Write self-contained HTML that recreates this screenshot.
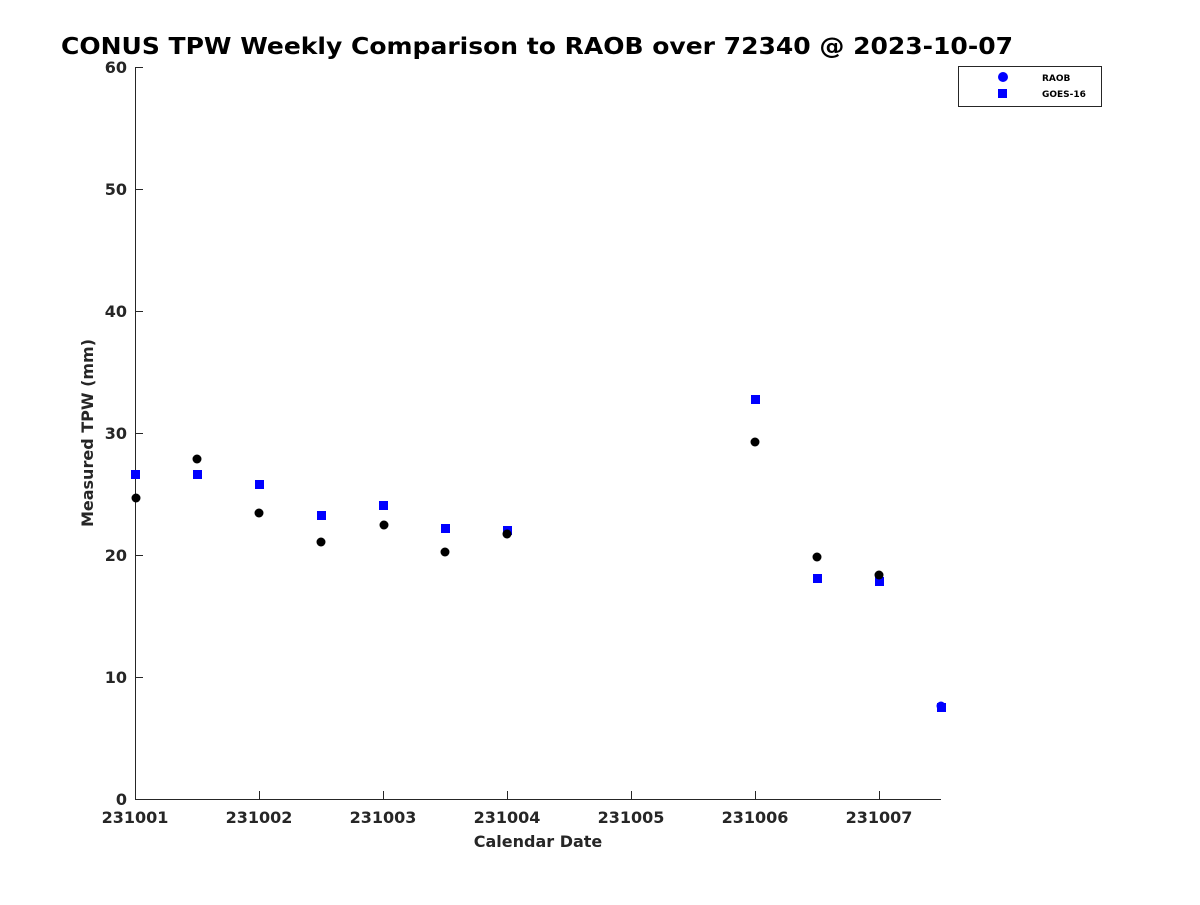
<!DOCTYPE html>
<html><head><style>body{margin:0;background:#fff}svg text{font-family:"DejaVu Sans",sans-serif;font-weight:bold;fill:#262626}</style></head><body>
<svg width="1200" height="900" xmlns="http://www.w3.org/2000/svg">
<rect width="1200" height="900" fill="#fff"/>
<text x="61" y="54" font-size="23.5" textLength="952" lengthAdjust="spacingAndGlyphs" style="fill:#000">CONUS TPW Weekly Comparison to RAOB over 72340 @ 2023-10-07</text>
<g stroke="#262626" stroke-width="1" fill="none">
<line x1="135.5" y1="67" x2="135.5" y2="799.5"/>
<line x1="135" y1="799.5" x2="941" y2="799.5"/>
<line x1="135" y1="67.5" x2="143" y2="67.5"/><line x1="135" y1="189.5" x2="143" y2="189.5"/><line x1="135" y1="311.5" x2="143" y2="311.5"/><line x1="135" y1="433.5" x2="143" y2="433.5"/><line x1="135" y1="555.5" x2="143" y2="555.5"/><line x1="135" y1="677.5" x2="143" y2="677.5"/>
<line x1="259.5" y1="799" x2="259.5" y2="791"/><line x1="383.5" y1="799" x2="383.5" y2="791"/><line x1="507.5" y1="799" x2="507.5" y2="791"/><line x1="631.5" y1="799" x2="631.5" y2="791"/><line x1="755.5" y1="799" x2="755.5" y2="791"/><line x1="879.5" y1="799" x2="879.5" y2="791"/>
</g>
<g font-size="16" text-anchor="end">
<text x="127" y="73">60</text><text x="127" y="195">50</text><text x="127" y="317">40</text><text x="127" y="439">30</text><text x="127" y="561">20</text><text x="127" y="683">10</text><text x="127" y="805">0</text>
</g>
<g font-size="16" text-anchor="middle">
<text x="135" y="823">231001</text><text x="259" y="823">231002</text><text x="383" y="823">231003</text><text x="507" y="823">231004</text><text x="631" y="823">231005</text><text x="755" y="823">231006</text><text x="879" y="823">231007</text>
</g>
<text x="538" y="847" font-size="16" text-anchor="middle">Calendar Date</text>
<text transform="translate(93,433) rotate(-90)" font-size="16" text-anchor="middle">Measured TPW (mm)</text>
<g fill="#0000ff">
<rect x="131" y="470" width="9" height="9"/><rect x="193" y="470" width="9" height="9"/><rect x="255" y="480" width="9" height="9"/><rect x="317" y="511" width="9" height="9"/><rect x="379" y="501" width="9" height="9"/><rect x="441" y="524" width="9" height="9"/><rect x="503" y="526" width="9" height="9"/><rect x="751" y="395" width="9" height="9"/><rect x="813" y="574" width="9" height="9"/><rect x="875" y="577" width="9" height="9"/><rect x="937" y="703" width="9" height="9"/>
</g>
<g fill="#000">
<circle cx="136" cy="498" r="4.5"/><circle cx="197" cy="459" r="4.5"/><circle cx="259" cy="513" r="4.5"/><circle cx="321" cy="542" r="4.5"/><circle cx="384" cy="525" r="4.5"/><circle cx="445" cy="552" r="4.5"/><circle cx="507" cy="534" r="4.5"/><circle cx="755" cy="442" r="4.5"/><circle cx="817" cy="557" r="4.5"/><circle cx="879" cy="575" r="4.5"/>
</g>
<circle cx="941" cy="706" r="4.5" fill="#0000ff"/>
<rect x="958.5" y="66.5" width="143" height="40" fill="#fff" stroke="#262626"/>
<circle cx="1003" cy="77" r="5" fill="#0000ff"/>
<rect x="998" y="89" width="9" height="9" fill="#0000ff"/>
<text x="1042" y="81" font-size="9" style="fill:#000">RAOB</text>
<text x="1042" y="97" font-size="9" style="fill:#000">GOES-16</text>
</svg>
</body></html>
